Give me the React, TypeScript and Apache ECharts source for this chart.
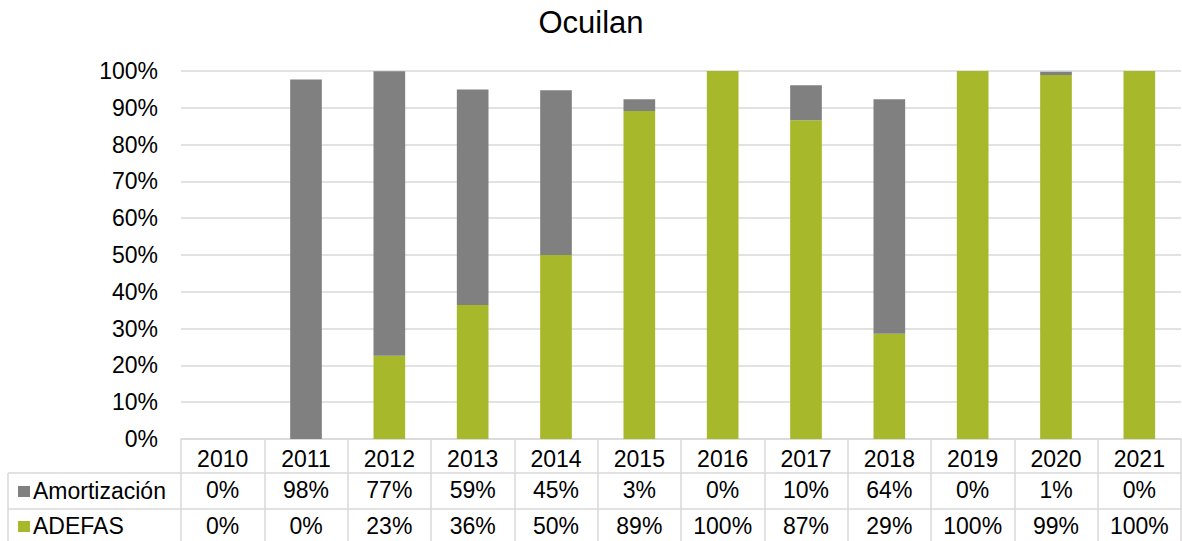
import React, { useEffect, useRef } from "react";
import * as echarts from "echarts";

const years = ["2010", "2011", "2012", "2013", "2014", "2015", "2016", "2017", "2018", "2019", "2020", "2021"];
const amortizacion = [0, 97.7, 77.3, 58.6, 44.8, 3.2, 0, 9.5, 63.7, 0, 0.9, 0];
const adefas = [0, 0, 22.6, 36.4, 50.0, 89.1, 100, 86.6, 28.6, 100, 98.9, 100];
const yTicks = [0, 10, 20, 30, 40, 50, 60, 70, 80, 90, 100];
const rowNames = ["Amortización", "ADEFAS"];

const GRAY = "#808080";
const GREEN = "#a7b82a";
const LINE = "#d9d9d9";
const FONT = "Liberation Sans, Arial, sans-serif";

export default function App() {
  const ref = useRef<HTMLDivElement>(null);
  useEffect(() => {
    document.body.style.margin = "0";
    if (!ref.current) return;
    const chart = echarts.init(ref.current, undefined, { renderer: "svg" });
    const gridLeft = 181;
    const gridTop = 71;
    const gridBottomY = 439;
    const row1 = 34;
    const row2 = 36;
    const fmt = (arr: number[]) => (_v: string, i: number) => `${Math.round(arr[i])}%`;
    const baseX = {
      type: "category" as const,
      data: years,
      position: "bottom" as const,
      axisLine: { show: true, lineStyle: { color: LINE, width: 1.5 } },
      axisTick: { show: true, interval: 0, lineStyle: { color: LINE, width: 1.5 } },
      splitLine: { show: false },
    };
    const rowColors = [GRAY, GREEN];
    const rowCenters = [gridBottomY + row1 + row2 / 2, gridBottomY + row1 + row2 + 17];
    const headerGraphics: any[] = [];
    rowNames.forEach((name, i) => {
      headerGraphics.push({
        type: "rect",
        shape: { x: 18, y: rowCenters[i] - 5, width: 12, height: 11 },
        style: { fill: rowColors[i] },
      });
      headerGraphics.push({
        type: "text",
        x: 33,
        y: rowCenters[i],
        style: { text: name, font: `23px ${FONT}`, fill: "#000", verticalAlign: "middle", align: "left" },
      });
    });
    chart.setOption({
      animation: false,
      textStyle: { fontFamily: FONT },
      title: {
        text: "Ocuilan",
        left: "center",
        top: 2,
        textStyle: { fontFamily: FONT, fontSize: 31, fontWeight: "normal", color: "#000" },
      },
      grid: { left: gridLeft, right: 1, top: gridTop, height: gridBottomY - gridTop, containLabel: false },
      xAxis: [
        {
          ...baseX,
          offset: 0,
          axisTick: { ...baseX.axisTick, length: row1 },
          axisLabel: { interval: 0, margin: 8, fontSize: 23, color: "#000", fontFamily: FONT },
        },
        {
          ...baseX,
          offset: row1,
          axisTick: { ...baseX.axisTick, length: row2 },
          axisLabel: { interval: 0, margin: 5, fontSize: 23, color: "#000", fontFamily: FONT, formatter: fmt(amortizacion) },
        },
        {
          ...baseX,
          offset: row1 + row2,
          axisTick: { ...baseX.axisTick, length: 40 },
          axisLabel: { interval: 0, margin: 5, fontSize: 23, color: "#000", fontFamily: FONT, formatter: fmt(adefas) },
        },
      ],
      yAxis: {
        type: "value",
        min: yTicks[0],
        max: yTicks[yTicks.length - 1],
        interval: 10,
        axisLine: { show: false },
        axisTick: { show: false },
        axisLabel: { margin: 23, fontSize: 23, color: "#000", fontFamily: FONT, formatter: "{value}%" },
        splitLine: { lineStyle: { color: LINE, width: 1.5 } },
      },
      series: [
        {
          name: "ADEFAS",
          type: "bar",
          stack: "total",
          data: adefas,
          barWidth: "38%",
          itemStyle: { color: GREEN },
          xAxisIndex: 0,
        },
        {
          name: "Amortización",
          type: "bar",
          stack: "total",
          data: amortizacion,
          barWidth: "38%",
          itemStyle: { color: GRAY },
          xAxisIndex: 0,
        },
      ],
      graphic: [
        { type: "line", shape: { x1: 8, y1: gridBottomY + row1, x2: gridLeft, y2: gridBottomY + row1 }, style: { stroke: LINE, lineWidth: 1.5 } },
        { type: "line", shape: { x1: 8, y1: gridBottomY + row1 + row2, x2: gridLeft, y2: gridBottomY + row1 + row2 }, style: { stroke: LINE, lineWidth: 1.5 } },
        { type: "line", shape: { x1: 8, y1: gridBottomY + row1, x2: 8, y2: 545 }, style: { stroke: LINE, lineWidth: 1.5 } },
        ...headerGraphics,
      ],
    });
    return () => chart.dispose();
  }, []);
  return <div ref={ref} style={{ width: 1182, height: 541 }} />;
}
